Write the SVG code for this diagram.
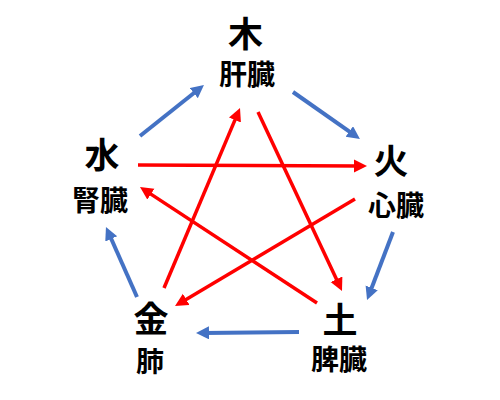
<svg xmlns="http://www.w3.org/2000/svg" width="500" height="400" viewBox="0 0 500 400">
<defs>
<style>
.el{font-family:"Noto Sans CJK JP","Noto Sans CJK SC",sans-serif;font-weight:bold;font-size:35px;fill:#000;text-anchor:middle;dominant-baseline:central}
.org{font-family:"Noto Sans CJK JP","Noto Sans CJK SC",sans-serif;font-weight:bold;font-size:28px;fill:#000;text-anchor:middle;dominant-baseline:central}
.blue{stroke:#4472C4;stroke-width:4;fill:none;marker-end:url(#ab)}
.red{stroke:#FF0000;stroke-width:3.5;fill:none;marker-end:url(#ar)}
</style>
<marker id="ab" markerUnits="userSpaceOnUse" markerWidth="14" markerHeight="14" refX="5" refY="6.5" orient="auto"><path d="M0,0 L13,6.5 L0,13 Z" fill="#4472C4"/></marker>
<marker id="ar" markerUnits="userSpaceOnUse" markerWidth="14" markerHeight="14" refX="5" refY="6.5" orient="auto"><path d="M0,0 L13,6.5 L0,13 Z" fill="#FF0000"/></marker>
</defs>
<rect width="500" height="400" fill="#fff"/>
<g id="connectors">
<path class="blue" d="M140,136 L197.7,90"/>
<path class="blue" d="M293,92 L353.4,134.4"/>
<path class="blue" d="M393,232 L369.9,292.5"/>
<path class="blue" d="M299,332 L204,332.9"/>
<path class="blue" d="M137,297 L109.2,234.3"/>
<path class="red" d="M138,165 L359,166"/>
<path class="red" d="M355,199 L181.9,301.9"/>
<path class="red" d="M164,288 L236.9,115.4"/>
<path class="red" d="M258,112 L338.6,283.8"/>
<path class="red" d="M317,303 L146.7,191.4"/>
</g>
<g id="wood"><text class="el" x="245.5" y="31">木</text><text class="org" x="247" y="72.5">肝臓</text></g>
<g id="fire"><text class="el" x="391" y="158">火</text><text class="org" x="396" y="204">心臓</text></g>
<g id="earth"><text class="el" x="340" y="317">土</text><text class="org" x="339" y="358">脾臓</text></g>
<g id="metal"><text class="el" x="151" y="316">金</text><text class="org" x="150" y="360">肺</text></g>
<g id="water"><text class="el" x="102" y="152">水</text><text class="org" x="100" y="199">腎臓</text></g>
</svg>
